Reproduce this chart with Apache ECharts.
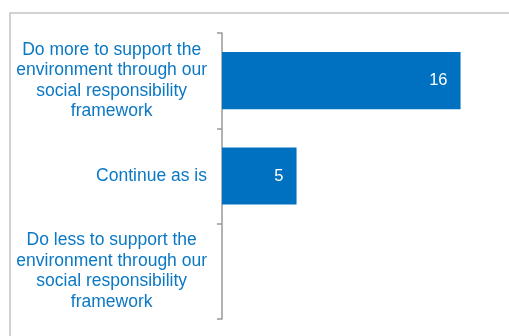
<!DOCTYPE html>
<html>
<head>
<meta charset="utf-8">
<script src="https://cdn.jsdelivr.net/npm/echarts@6/dist/echarts.min.js"></script>
<style>
  html, body { margin: 0; padding: 0; background: #ffffff; }
  #chart { width: 509px; height: 336px; }
</style>
</head>
<body>
<div id="chart"></div>
<script>
// Survey answers, top to bottom
const categories = [
  'Do more to support the\nenvironment through our\nsocial responsibility\nframework',
  'Continue as is',
  'Do less to support the\nenvironment through our\nsocial responsibility\nframework'
];
const responses = [16, 5, 0];

const FONT = '"Liberation Sans", Arial, sans-serif';
const LABEL_BLUE = '#0a78c4';

const chart = echarts.init(document.getElementById('chart'), null, { renderer: 'canvas' });

chart.setOption({
  animation: false,
  backgroundColor: '#ffffff',
  textStyle: { fontFamily: FONT },
  graphic: [{
    type: 'rect',
    shape: { x: 10, y: 13, width: 520, height: 340 },
    style: { fill: 'none', stroke: '#c3c3c3', lineWidth: 1.5 },
    silent: true
  }],
  grid: { left: 222, right: 0, top: 33, bottom: 17, containLabel: false },
  xAxis: {
    type: 'value',
    min: 0,
    max: 19.25,
    show: false
  },
  yAxis: {
    type: 'category',
    data: categories,
    inverse: true,
    axisLine: { show: true, lineStyle: { color: '#999999', width: 1.5 } },
    axisTick: { show: true, length: 5, lineStyle: { color: '#999999', width: 1.5 } },
    axisLabel: {
      align: 'right',
      margin: 15,
      // each line is centred within the label block, block sits right-aligned
      formatter: v => v.split('\n').map(line => '{c|' + line + '}').join('\n'),
      rich: {
        c: {
          align: 'center',
          color: LABEL_BLUE,
          fontSize: 17.5,
          lineHeight: 20.5,
          fontFamily: FONT
        }
      }
    },
    splitLine: { show: false }
  },
  series: [{
    type: 'bar',
    data: responses,
    barCategoryGap: '40%',
    itemStyle: { color: '#0070c0' },
    label: {
      show: true,
      position: 'insideRight',
      distance: 13,
      color: '#ffffff',
      fontSize: 16.5,
      fontFamily: FONT,
      formatter: p => (p.value > 0 ? String(p.value) : '')
    }
  }]
});
</script>
</body>
</html>
